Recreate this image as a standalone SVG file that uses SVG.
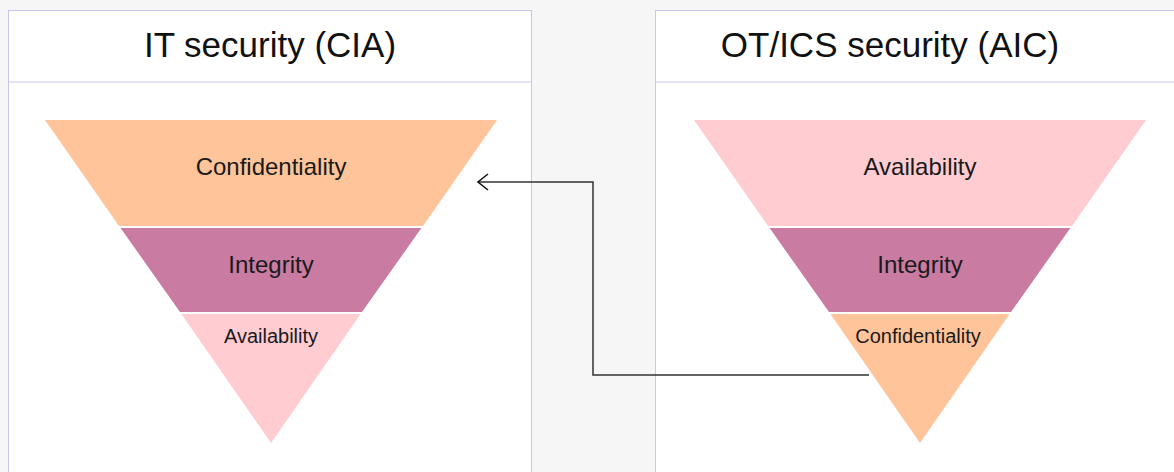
<svg xmlns="http://www.w3.org/2000/svg" width="1174" height="472" viewBox="0 0 1174 472">
<style>
.panel{fill:#ffffff;stroke:#c9c5ee;stroke-width:1}
.div{stroke:#c9c5ee;stroke-width:1.2}
.title{font-family:"Liberation Sans",Arial,sans-serif;font-size:35px;fill:#111111;text-anchor:middle}
.lbl{font-family:"Liberation Sans",Arial,sans-serif;font-size:24px;fill:#1a1a1a;text-anchor:middle}
.sm{font-family:"Liberation Sans",Arial,sans-serif;font-size:20px;fill:#1a1a1a;text-anchor:middle}
.conf{fill:#ffc499}
.integ{fill:#c97ba2}
.avail{fill:#ffccd2}
.conn{fill:none;stroke:#333333;stroke-width:1.5}
</style>
<defs>
<marker id="arr" viewBox="0 0 12 18" refX="11" refY="9" markerWidth="12" markerHeight="18" markerUnits="userSpaceOnUse" orient="auto">
<path d="M1,1 L11,9 L1,17" fill="none" stroke="#111111" stroke-width="1.5"/>
</marker>
</defs>
<rect width="1174" height="472" fill="#f6f6f6"/>
<g id="panel-it">
<rect class="panel" x="8.5" y="10.5" width="523" height="480"/>
<line class="div" x1="8.5" y1="82" x2="531.5" y2="82"/>
<text class="title" x="270" y="57">IT security (CIA)</text>
</g>
<g id="panel-ot">
<rect class="panel" x="655.5" y="10.5" width="540" height="480"/>
<line class="div" x1="655.5" y1="82" x2="1174" y2="82"/>
<text class="title" x="890" y="57">OT/ICS security (AIC)</text>
</g>
<g id="it-confidentiality">
<polygon class="conf" points="45,120 497,120 423,226 119,226"/>
<text class="lbl" x="271" y="175">Confidentiality</text>
</g>
<g id="it-integrity">
<polygon class="integ" points="120.6,228 421.4,228 362,312 180,312"/>
<text class="lbl" x="271" y="273">Integrity</text>
</g>
<g id="it-availability">
<polygon class="avail" points="181.4,314 360.6,314 271,443"/>
<text class="sm" x="271" y="343">Availability</text>
</g>
<g id="ot-availability">
<polygon class="avail" points="694,120 1146,120 1072,226 768,226"/>
<text class="lbl" x="920" y="175">Availability</text>
</g>
<g id="ot-integrity">
<polygon class="integ" points="769.6,228 1070.4,228 1011,312 829,312"/>
<text class="lbl" x="920" y="273">Integrity</text>
</g>
<g id="ot-confidentiality">
<polygon class="conf" points="830.4,314 1009.6,314 920,443"/>
<text class="sm" x="918" y="343">Confidentiality</text>
</g>
<g id="connectors">
<path class="conn" d="M869,375 L593,375 L593,182 L478,182" marker-end="url(#arr)"/>
</g>
</svg>
